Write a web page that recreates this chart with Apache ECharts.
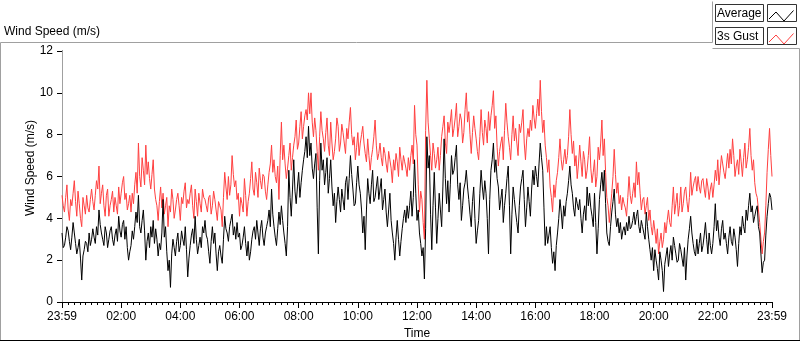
<!DOCTYPE html>
<html>
<head>
<meta charset="utf-8">
<title>Wind Speed</title>
<script src="https://cdn.jsdelivr.net/npm/echarts@6/dist/echarts.min.js"></script>
<style>
  html, body { margin: 0; padding: 0; background: #fff; }
  #chart { width: 800px; height: 342px; }
</style>
</head>
<body>
<div id="chart"></div>
<script>
// one sample every 2.5 minutes, from 23:59 to 23:59 next day
var stepMinutes = 2.5;

// 3s gust (m/s)
var gust = [
  5.1,4.6,4.3,5.0,5.6,4.4,3.9,4.9,4.6,5.2,5.8,4.8,4.1,5.3,4.7,4.0,3.6,5.0,4.6,4.2,
  5.1,4.5,4.3,4.9,5.4,4.8,4.4,5.1,5.8,5.4,6.5,4.7,5.2,5.6,4.6,4.1,5.1,5.4,4.1,4.6,
  4.9,5.3,4.3,5.0,4.6,4.2,5.5,4.7,5.2,5.7,6.0,4.9,5.2,4.4,4.7,5.1,4.3,5.2,4.7,5.6,
  6.2,5.2,7.6,6.0,5.5,6.9,6.3,5.6,7.5,6.1,6.7,5.9,5.4,6.1,6.8,5.4,4.9,4.6,3.9,4.8,
  5.5,4.5,5.2,4.2,4.6,5.0,3.6,4.6,4.3,5.4,4.9,4.0,4.4,4.9,5.2,4.6,3.9,5.0,4.7,5.3,
  5.7,4.5,4.9,4.7,5.2,5.6,4.6,4.0,5.4,4.8,4.1,5.2,4.7,4.3,5.4,5.0,4.9,4.6,4.3,5.0,
  5.1,4.2,4.6,5.3,4.9,4.4,3.9,4.8,4.6,4.4,3.6,5.0,6.2,5.5,4.9,6.0,5.1,5.6,7.0,6.1,
  5.5,5.8,4.9,5.2,
  4.1,5.0,4.7,4.3,5.9,5.1,4.1,4.8,5.2,5.9,6.7,5.4,5.1,6.2,5.7,5.0,6.4,5.8,5.4,6.1,
  6.0,5.3,4.9,5.6,6.2,6.6,7.5,6.2,6.8,6.0,5.7,6.5,4.9,7.0,8.6,6.8,7.5,6.6,5.9,6.4,
  7.0,7.6,6.3,6.9,7.5,7.9,8.7,7.3,7.6,8.4,9.1,7.8,8.4,8.9,9.2,8.7,10.0,9.0,10.0,8.6,
  7.9,8.8,8.2,7.2,6.3,7.9,9.1,8.2,7.8,7.2,8.1,8.8,7.5,7.0,8.6,7.6,6.8,7.2,7.8,8.8,
  8.4,7.2,7.6,8.5,8.1,7.6,7.1,8.3,7.8,8.6,9.3,8.0,7.5,7.9,6.8,7.4,8.1,7.0,7.6,8.0,
  8.4,7.6,7.1,6.7,7.8,7.0,6.3,6.9,7.3,7.9,8.7,7.5,6.8,7.1,7.6,6.9,6.5,7.4,7.1,6.6,
  6.2,7.2,6.8,6.4,5.7,6.8,6.3,7.1,6.7,6.0,7.4,6.8,6.3,7.0,6.7,6.4,6.0,6.9,
  6.3,7.0,7.5,6.6,9.4,8.0,7.5,5.6,4.3,5.3,4.9,3.8,3.0,8.2,10.6,8.6,7.8,7.0,6.3,7.6,
  7.1,6.4,6.8,7.4,6.3,7.0,7.9,8.4,8.9,7.6,7.1,8.6,8.1,8.6,9.2,7.9,8.3,8.8,9.5,7.9,
  8.4,9.0,8.7,7.6,8.1,9.2,10.0,8.6,9.1,8.0,7.1,8.1,8.9,8.3,7.8,7.2,6.8,7.9,9.2,8.1,
  7.5,8.7,8.3,7.6,9.1,8.2,8.9,9.4,10.1,8.3,8.9,7.4,6.5,7.2,7.6,7.9,6.8,8.2,9.5,8.6,
  7.9,7.4,6.8,8.0,8.9,7.7,8.3,7.6,7.0,8.5,8.1,8.6,9.2,7.6,6.8,7.8,8.3,7.9,8.7,8.2,
  9.4,8.8,8.3,9.0,9.7,8.9,10.6,9.1,8.1,8.7,7.5,6.9,6.2,6.8,5.5,5.0,4.3,5.6,5.0,5.8,
  6.2,6.9,7.8,6.8,6.3,6.8,7.3,6.6,7.0,7.9,9.2,8.0,7.1,7.7,6.5,7.0,5.9,6.6,
  7.5,6.7,6.0,7.2,6.8,5.9,6.3,7.0,7.9,6.4,5.7,6.2,6.8,5.5,6.0,7.4,6.8,7.6,8.7,7.0,
  7.8,6.2,5.0,4.6,3.8,4.5,5.2,6.0,7.3,6.1,5.2,5.7,4.7,5.1,4.4,5.0,4.7,4.5,4.1,5.0,
  6.0,5.1,4.7,5.2,5.7,5.0,6.7,5.6,6.2,5.2,4.4,4.9,5.0,4.2,4.6,5.0,3.9,4.4,3.6,3.2,
  3.9,3.4,2.8,3.5,2.3,2.9,3.3,2.6,3.0,3.8,3.3,3.9,4.4,3.8,3.6,4.6,5.5,4.2,4.7,5.2,
  4.1,4.6,5.5,4.3,4.7,5.3,5.5,4.8,4.3,5.0,6.2,5.1,5.5,5.8,6.0,5.3,6.0,5.5,5.2,5.8,
  5.9,5.4,5.0,5.9,5.5,4.9,5.4,5.7,5.0,5.6,6.3,5.8,6.8,5.6,6.3,7.0,6.6,6.2,5.9,6.5,
  7.1,6.4,7.3,6.6,7.8,7.0,6.0,6.5,6.8,6.1,7.3,6.7,6.0,6.9,7.6,6.4,6.8,7.4,8.3,7.0,
  6.3,6.8,5.7,5.2,5.0,4.4,3.8,3.0,2.3,2.9,3.3,4.6,6.2,7.3,8.3,7.0,6.0
];

// average (m/s)
var average = [
  3.3,2.6,2.7,3.1,3.6,3.4,2.9,2.5,3.1,3.8,3.3,2.8,2.3,2.6,3.0,2.1,1.05,2.2,2.5,2.9,
  2.8,2.4,3.3,2.7,3.0,3.5,3.1,2.8,3.6,3.2,4.4,3.7,3.3,3.0,2.7,3.6,3.3,2.6,3.0,3.4,
  3.6,3.0,2.7,3.2,3.5,2.9,4.1,3.4,3.1,3.7,3.9,3.0,3.6,2.6,2.0,2.4,2.7,3.4,3.0,3.6,
  4.3,3.8,5.1,3.6,3.3,3.9,4.4,3.4,2.0,2.9,3.3,2.6,3.6,3.1,3.9,2.8,3.5,3.0,2.2,2.8,
  2.5,3.3,4.9,3.1,3.6,2.4,1.5,2.0,0.7,2.3,3.0,2.6,2.2,2.9,3.3,2.4,2.7,3.4,3.0,2.7,
  3.6,2.5,1.2,2.1,2.7,3.2,3.5,2.8,4.1,3.0,2.3,2.7,3.1,2.6,3.6,3.3,3.9,3.2,3.0,2.4,
  1.85,2.9,3.6,2.8,3.3,2.3,1.5,2.4,2.7,2.2,1.85,3.0,4.1,3.5,3.3,2.9,3.6,3.9,4.2,3.2,
  3.6,3.0,3.8,3.1,
  3.3,2.5,2.7,3.1,3.6,2.8,2.2,2.9,2.0,2.4,3.0,3.4,3.6,3.0,3.9,3.3,2.7,3.5,3.9,3.1,
  2.7,3.3,3.6,3.9,4.4,3.6,5.4,4.2,3.6,3.1,2.7,3.5,4.3,3.7,4.6,3.9,3.3,2.8,2.2,3.6,
  6.3,5.0,4.1,5.4,6.8,5.3,4.7,5.5,6.2,5.0,5.7,6.3,6.8,7.2,7.9,6.9,8.4,7.0,7.6,6.4,
  5.9,6.6,7.1,4.5,2.3,5.8,7.6,6.3,6.8,5.6,6.2,6.9,5.2,5.9,6.8,5.5,4.6,5.2,3.8,4.8,
  5.5,4.9,4.3,5.4,4.9,4.4,5.7,6.0,4.9,5.9,7.0,6.1,5.4,4.6,4.7,5.7,6.5,5.6,5.2,4.4,
  3.3,4.1,2.5,4.4,5.9,5.2,4.7,5.6,6.3,4.8,5.0,5.5,6.0,4.9,5.4,5.9,4.4,4.9,5.4,4.3,
  3.6,4.4,5.2,3.9,3.3,2.8,2.0,3.1,3.9,3.0,2.2,2.9,3.5,4.0,4.4,3.8,4.6,4.0,
  4.6,5.3,4.1,5.0,6.8,5.2,3.9,4.4,3.3,2.8,2.2,2.6,1.1,3.5,7.9,6.4,7.0,4.2,2.5,4.6,
  6.2,4.5,2.8,4.0,5.2,4.4,3.6,5.5,7.8,5.9,4.7,5.8,4.3,5.6,7.0,6.1,6.3,6.9,7.5,5.6,
  4.9,5.7,3.9,4.6,5.4,5.7,6.3,5.5,4.9,4.2,3.6,4.8,5.5,4.0,2.8,3.4,3.9,5.2,6.3,5.5,
  4.9,5.8,5.2,4.0,2.3,4.9,6.3,6.8,7.6,6.2,6.8,5.9,5.5,4.4,4.9,5.4,3.8,4.6,5.2,5.9,
  6.5,4.6,2.3,4.2,5.5,4.9,4.3,3.8,3.3,4.6,5.5,5.9,6.3,4.9,3.6,4.5,5.5,4.8,4.1,5.4,
  6.3,5.6,6.5,6.0,5.5,6.6,7.6,6.9,6.3,4.5,2.7,3.6,2.8,3.2,3.6,2.6,1.85,2.4,1.5,2.7,
  3.3,4.0,4.9,4.3,3.5,4.6,4.1,4.8,5.2,5.8,6.5,5.6,5.2,4.5,4.1,5.0,4.7,4.4,
  4.9,4.0,3.3,4.2,4.6,3.9,5.5,4.6,5.2,4.5,4.1,3.6,5.2,3.8,2.3,3.5,4.9,5.6,6.2,5.3,
  6.3,4.7,3.3,2.9,2.7,3.6,4.3,4.8,5.4,4.2,3.6,4.0,3.3,3.8,3.0,3.4,3.6,3.2,3.8,3.4,
  4.1,3.5,3.6,3.9,4.3,3.7,4.1,4.4,3.6,3.3,3.9,3.6,3.3,3.0,4.3,3.6,3.0,2.5,2.0,2.6,
  1.5,2.5,2.0,1.6,1.05,2.4,2.0,1.5,0.5,1.8,2.2,2.6,1.7,2.3,2.7,2.0,3.1,2.7,2.3,1.9,
  2.0,2.8,2.5,2.1,1.7,2.6,1.05,2.2,3.0,3.5,4.1,3.3,2.8,2.4,2.2,3.0,2.3,2.8,3.3,2.4,
  2.7,3.2,3.8,3.0,2.3,3.3,2.7,2.3,2.8,3.6,4.7,3.4,3.9,3.1,2.7,3.5,3.9,3.0,3.3,2.8,
  2.3,3.1,3.6,2.9,2.7,3.5,3.1,2.5,1.7,2.8,3.6,3.2,4.1,3.6,3.3,4.4,3.9,4.6,5.2,4.3,
  4.6,3.8,4.1,4.4,4.6,3.6,3.3,2.3,1.4,1.9,2.0,3.2,4.1,4.7,5.2,5.0,4.4
];

var yTicks = [0, 2, 4, 6, 8, 10, 12];
var endLabel = '23:59';
var legendNames = ['Average', '3s Gust'];

var font = '"Liberation Sans", Arial, sans-serif';
var gray = '#a0a0a0';

function toPairs(arr) {
  return arr.map(function (v, i) { return [i * stepMinutes, v]; });
}

function timeLabel(v) {
  if (v === 0 || v === 1440) return endLabel;
  var h = Math.round(v / 60);
  return (h < 10 ? '0' : '') + h + ':00';
}

function zigzag(y0) {
  return [[769, y0 + 15], [776, y0 + 8], [784, y0 + 17], [793.5, y0 + 6.5]];
}

var myChart = echarts.init(document.getElementById('chart'));
var option = {
  animation: false,
  backgroundColor: '#fff',
  title: {
    text: 'Wind Speed (m/s)',
    left: 4,
    top: 26,
    padding: 0,
    textStyle: { fontSize: 12, fontWeight: 'normal', color: '#000', fontFamily: font }
  },
  grid: { left: 62, right: 28, top: 51, bottom: 40, containLabel: false, outerBoundsMode: 'none' },
  xAxis: [
    {
      type: 'value',
      position: 'bottom',
      min: 0,
      max: 1440,
      interval: 120,
      name: 'Time',
      nameLocation: 'middle',
      nameGap: 25,
      nameTextStyle: { fontSize: 12, color: '#000', fontFamily: font },
      axisLine: { lineStyle: { color: gray, width: 1 } },
      axisTick: { show: true, length: 6, lineStyle: { color: '#000' } },
      minorTick: { show: true, splitNumber: 10, length: 3, lineStyle: { color: '#000' } },
      axisLabel: { margin: 9, fontSize: 12, color: '#000', fontFamily: font, formatter: timeLabel },
      splitLine: { show: false }
    },
    {
      type: 'value',
      position: 'top',
      min: 0,
      max: 1440,
      axisLine: { lineStyle: { color: '#000', width: 1 } },
      axisTick: { show: false },
      axisLabel: { show: false },
      splitLine: { show: false }
    }
  ],
  yAxis: [
    {
      type: 'value',
      position: 'left',
      min: yTicks[0],
      max: yTicks[yTicks.length - 1],
      interval: 2,
      axisLine: { show: true, lineStyle: { color: '#000', width: 1 } },
      axisTick: { show: true, length: 5, lineStyle: { color: '#000' } },
      axisLabel: { margin: 9, fontSize: 12, color: '#000', fontFamily: font },
      splitLine: { show: false }
    },
    {
      type: 'value',
      position: 'right',
      min: yTicks[0],
      max: yTicks[yTicks.length - 1],
      axisLine: { show: true, lineStyle: { color: gray, width: 1 } },
      axisTick: { show: false },
      axisLabel: { show: false },
      splitLine: { show: false }
    }
  ],
  series: [
    {
      name: legendNames[1],
      type: 'line',
      data: toPairs(gust),
      symbol: 'none',
      lineStyle: { color: '#ff4040', width: 1 },
      itemStyle: { color: '#ff4040' }
    },
    {
      name: legendNames[0],
      type: 'line',
      data: toPairs(average),
      symbol: 'none',
      lineStyle: { color: '#000', width: 1 },
      itemStyle: { color: '#000' }
    }
  ],
  graphic: [
    // outer frame
    { type: 'polyline', silent: true, shape: { points: [[0.5, 341], [0.5, 42.5], [712.5, 42.5], [712.5, 1.5]] },
      style: { stroke: gray, lineWidth: 1, fill: null } },
    { type: 'polyline', silent: true, shape: { points: [[712.5, 48.5], [799.5, 48.5], [799.5, 341]] },
      style: { stroke: gray, lineWidth: 1, fill: null } },
    { type: 'line', silent: true, shape: { x1: 0, y1: 340.5, x2: 800, y2: 340.5 },
      style: { stroke: '#000', lineWidth: 1 } },
    // y axis name
    { type: 'text', silent: true, x: 31, y: 168, rotation: Math.PI / 2,
      style: { text: 'Wind Speed (m/s)', font: '12px ' + font, fill: '#000', align: 'center', verticalAlign: 'middle' } },
    // legend
    { type: 'rect', silent: true, shape: { x: 715.5, y: 4.5, width: 48, height: 17 },
      style: { fill: '#fff', stroke: '#333', lineWidth: 1 } },
    { type: 'rect', silent: true, shape: { x: 767.5, y: 4.5, width: 29, height: 17 },
      style: { fill: '#fff', stroke: '#333', lineWidth: 1 } },
    { type: 'text', silent: true, x: 717, y: 13.5,
      style: { text: legendNames[0], font: '12px ' + font, fill: '#000', verticalAlign: 'middle' } },
    { type: 'polyline', silent: true, shape: { points: zigzag(4) },
      style: { stroke: '#000', lineWidth: 1, fill: null } },
    { type: 'rect', silent: true, shape: { x: 715.5, y: 27.5, width: 48, height: 17 },
      style: { fill: '#fff', stroke: '#333', lineWidth: 1 } },
    { type: 'rect', silent: true, shape: { x: 767.5, y: 27.5, width: 29, height: 17 },
      style: { fill: '#fff', stroke: '#333', lineWidth: 1 } },
    { type: 'text', silent: true, x: 717, y: 36.5,
      style: { text: legendNames[1], font: '12px ' + font, fill: '#000', verticalAlign: 'middle' } },
    { type: 'polyline', silent: true, shape: { points: zigzag(27) },
      style: { stroke: '#ff4040', lineWidth: 1, fill: null } }
  ]
};

myChart.setOption(option);
</script>
</body>
</html>
